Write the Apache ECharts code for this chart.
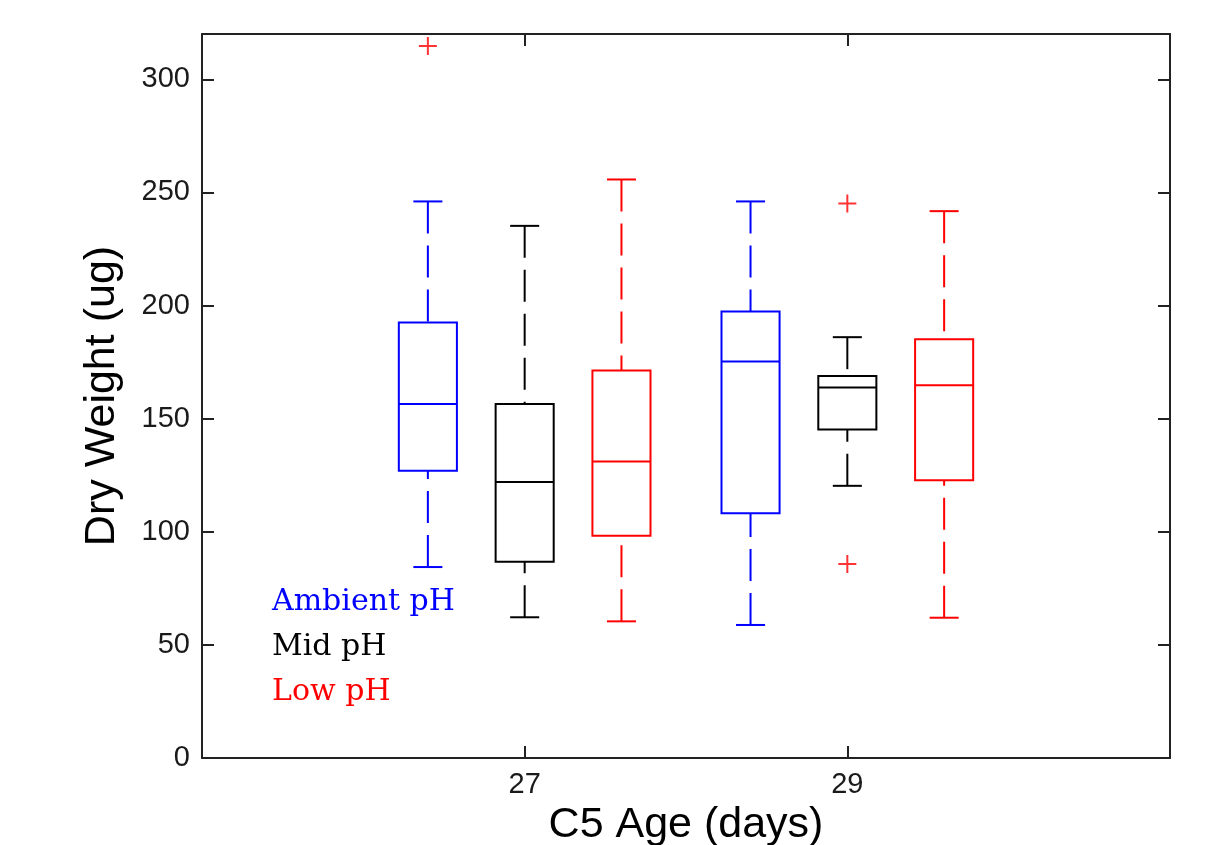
<!DOCTYPE html>
<html>
<head>
<meta charset="utf-8">
<script src="https://cdn.jsdelivr.net/npm/echarts@6/dist/echarts.min.js"></script>
<style>
  html, body { margin: 0; background: #fff; }
  #chart { width: 1209px; height: 845px; }
</style>
</head>
<body>
<div id="chart"></div>
<script>
const ages = [27, 29];
const groupNames = ['Ambient pH', 'Mid pH', 'Low pH'];
const groupColors = ['#0000ff', '#000000', '#ff0000'];
const groupOffsets = [-0.6, 0, 0.6];
const yTicks = [0, 50, 100, 150, 200, 250, 300];

// [lower whisker, Q1, median, Q3, upper whisker], one row per age
const ambientStats = [[84.4, 127, 156.5, 192.5, 246], [58.8, 108.2, 175.3, 197.3, 246]];
const midStats = [[62.2, 86.7, 122, 156.5, 235.2], [120.3, 145.2, 163.8, 168.8, 186]];
const lowStats = [[60.4, 98.2, 131.1, 171.3, 255.7], [62, 122.8, 164.7, 185.1, 241.7]];

// outliers per age
const ambientOutliers = [[314.7], []];
const midOutliers = [[], [245.1, 85.8]];
const lowOutliers = [[], []];

const allStats = [ambientStats, midStats, lowStats];
const allOutliers = [ambientOutliers, midOutliers, lowOutliers];

const BOX_WIDTH = 0.36;

const chart = echarts.init(document.getElementById('chart'));

function makeRenderer(color) {
  return function (params, api) {
    const x = api.value(0);
    const lo = api.coord([x, api.value(1)]);
    const q1 = api.coord([x, api.value(2)]);
    const med = api.coord([x, api.value(3)]);
    const q3 = api.coord([x, api.value(4)]);
    const hi = api.coord([x, api.value(5)]);
    const halfBox = (api.coord([x + BOX_WIDTH / 2, 0])[0] - api.coord([x - BOX_WIDTH / 2, 0])[0]) / 2;
    const cx = lo[0];
    const solid = { stroke: color, lineWidth: 2, fill: null };
    const dashed = { stroke: color, lineWidth: 2, lineDash: [32, 12] };
    return {
      type: 'group',
      children: [
        { type: 'rect', shape: { x: cx - halfBox, y: q3[1], width: halfBox * 2, height: q1[1] - q3[1] }, style: solid },
        { type: 'line', shape: { x1: cx - halfBox, y1: med[1], x2: cx + halfBox, y2: med[1] }, style: solid },
        { type: 'line', shape: { x1: cx, y1: hi[1], x2: cx, y2: q3[1] }, style: dashed },
        { type: 'line', shape: { x1: cx, y1: lo[1], x2: cx, y2: q1[1] }, style: dashed },
        { type: 'line', shape: { x1: cx - halfBox / 2, y1: hi[1], x2: cx + halfBox / 2, y2: hi[1] }, style: solid },
        { type: 'line', shape: { x1: cx - halfBox / 2, y1: lo[1], x2: cx + halfBox / 2, y2: lo[1] }, style: solid }
      ]
    };
  };
}

const series = [];
allStats.forEach((stats, g) => {
  series.push({
    name: groupNames[g],
    type: 'custom',
    renderItem: makeRenderer(groupColors[g]),
    encode: { x: 0, y: [1, 2, 3, 4, 5] },
    data: stats.map((s, i) => [ages[i] + groupOffsets[g]].concat(s)),
    silent: true,
    z: 3
  });
});

const outlierData = [];
allOutliers.forEach((byAge, g) => {
  byAge.forEach((vals, i) => {
    vals.forEach((v) => outlierData.push([ages[i] + groupOffsets[g], v]));
  });
});

series.push({
  name: 'outliers',
  type: 'scatter',
  data: outlierData,
  symbol: 'path://M0,8h18v2h-18z M8,0h2v18h-2z',
  symbolSize: 18,
  itemStyle: { color: '#ff0000' },
  silent: true,
  z: 4
});

const axisFont = { fontFamily: 'Liberation Sans', fontSize: 29, color: '#1a1a1a' };
const frameLine = { show: true, onZero: false, lineStyle: { color: '#222', width: 2 } };
const tickStyle = { color: '#222', width: 2 };

chart.setOption({
  animation: false,
  backgroundColor: '#fff',
  grid: { left: 202, right: 39, top: 34, bottom: 87, containLabel: false, outerBoundsMode: 'none' },
  xAxis: [
    {
      type: 'value',
      position: 'bottom',
      min: 25,
      max: 31,
      name: 'C5 Age (days)',
      nameLocation: 'middle',
      nameGap: 38,
      nameTextStyle: { fontFamily: 'Liberation Sans', fontSize: 43, color: '#000' },
      axisLine: frameLine,
      axisTick: { inside: true, length: 12, customValues: ages, lineStyle: tickStyle },
      axisLabel: { customValues: ages, margin: 12, ...axisFont },
      splitLine: { show: false }
    },
    {
      type: 'value',
      position: 'top',
      min: 25,
      max: 31,
      axisLine: frameLine,
      axisTick: { inside: true, length: 12, customValues: ages, lineStyle: tickStyle },
      axisLabel: { show: false },
      splitLine: { show: false }
    }
  ],
  yAxis: [
    {
      type: 'value',
      position: 'left',
      min: 0,
      max: 320,
      name: 'Dry Weight (ug)',
      nameLocation: 'middle',
      nameGap: 78,
      nameTextStyle: { fontFamily: 'Liberation Sans', fontSize: 43, color: '#000' },
      axisLine: frameLine,
      axisTick: { inside: true, length: 12, customValues: yTicks, lineStyle: tickStyle },
      axisLabel: { customValues: yTicks, margin: 12, ...axisFont },
      splitLine: { show: false }
    },
    {
      type: 'value',
      position: 'right',
      min: 0,
      max: 320,
      axisLine: frameLine,
      axisTick: { inside: true, length: 12, customValues: yTicks, lineStyle: tickStyle },
      axisLabel: { show: false },
      splitLine: { show: false }
    }
  ],
  graphic: groupNames.map((name, g) => ({
    type: 'text',
    left: 272,
    top: 587 + g * 45,
    style: {
      text: name,
      fill: groupColors[g],
      font: '30px "DejaVu Serif"'
    }
  })),
  series
});

window.addEventListener('resize', () => {
  chart.resize();
});
</script>
</body>
</html>
